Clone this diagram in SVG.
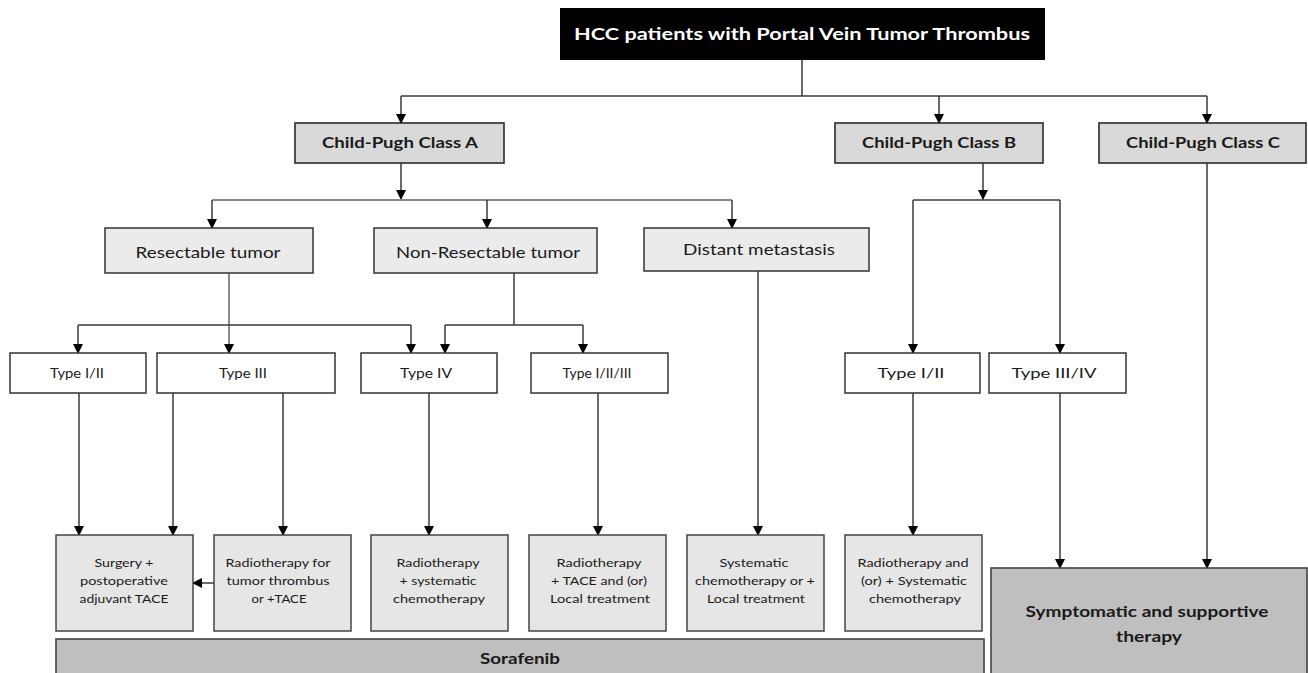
<svg xmlns="http://www.w3.org/2000/svg" width="1308" height="673" viewBox="0 0 1308 673">
<style>
  .t{font-family:Lato,"Open Sans","Liberation Sans",sans-serif;fill:#1a1a1a;text-anchor:middle}
  .b{font-weight:bold}
  .cls{fill:#d9d9d9;stroke:#2a2a2a;stroke-width:1.6}
  .mid{fill:#ebebeb;stroke:#333;stroke-width:1.5}
  .typ{fill:#ffffff;stroke:#333;stroke-width:1.5}
  .trt{fill:#e6e6e6;stroke:#444;stroke-width:1.5}
  .big{fill:#bfbfbf;stroke:#444;stroke-width:1.6}
  .c{fill:none;stroke:#3a3a3a;stroke-width:1.5}
  .g{fill:none;stroke:#8a8a8a;stroke-width:2}
  .a{marker-end:url(#arr)}
</style>
<defs>
  <marker id="arr" markerUnits="userSpaceOnUse" markerWidth="10" markerHeight="11" refX="9" refY="5" orient="auto">
    <path d="M0,0 L10,5 L0,10 Z" fill="#000"/>
  </marker>
</defs>
<rect width="1308" height="673" fill="#fff"/>

<g id="connectors">
  <path class="c" d="M802,60 V96 M401,96 H1207"/>
  <path class="c a" d="M401,96 V123"/>
  <path class="c a" d="M939,96 V123"/>
  <path class="c a" d="M1207,96 V123"/>
  <path class="c a" d="M401,163 V199"/>
  <path class="g" d="M212,200 H732"/>
  <path class="c a" d="M212,200 V228"/>
  <path class="c a" d="M487,200 V228"/>
  <path class="c a" d="M732,200 V228"/>
  <path class="c a" d="M983,163 V199"/>
  <path class="c" d="M913,200 H1060"/>
  <path class="c a" d="M913,200 V353"/>
  <path class="c a" d="M1060,200 V353"/>
  <path class="c a" d="M1207,163 V568"/>
  <path class="g a" d="M229,273 V353"/>
  <path class="c" d="M78,325 H411"/>
  <path class="c a" d="M78,325 V353"/>
  <path class="c a" d="M411,325 V353"/>
  <path class="c" d="M514,273 V325 M445,325 H583"/>
  <path class="c a" d="M445,325 V353"/>
  <path class="c a" d="M583,325 V353"/>
  <path class="c a" d="M758,271 V535"/>
  <path class="c a" d="M79,393 V535"/>
  <path class="c a" d="M173,393 V535"/>
  <path class="c a" d="M283,393 V535"/>
  <path class="c a" d="M429,393 V535"/>
  <path class="c a" d="M598,393 V535"/>
  <path class="c a" d="M913,393 V535"/>
  <path class="c a" d="M1060,393 V568"/>
  <path class="c a" d="M214,583 H193"/>
</g>

<g id="root">
  <rect x="560" y="8" width="485" height="52" fill="#000"/>
  <text class="t b" x="802" y="40" font-size="17.5" fill="#fff" style="fill:#fff" textLength="456" lengthAdjust="spacingAndGlyphs">HCC patients with Portal Vein Tumor Thrombus</text>
</g>

<g id="classA"><rect class="cls" x="295" y="123" width="209" height="40"/><text class="t b" x="400" y="148" font-size="15" textLength="156" lengthAdjust="spacingAndGlyphs">Child-Pugh Class A</text></g>
<g id="classB"><rect class="cls" x="835" y="123" width="208" height="40"/><text class="t b" x="939" y="148" font-size="15" textLength="154" lengthAdjust="spacingAndGlyphs">Child-Pugh Class B</text></g>
<g id="classC"><rect class="cls" x="1099" y="123" width="207" height="40"/><text class="t b" x="1203" y="148" font-size="15" textLength="154" lengthAdjust="spacingAndGlyphs">Child-Pugh Class C</text></g>

<g id="resectable"><rect class="mid" x="105" y="228" width="208" height="45"/><text class="t" x="208" y="258" font-size="15" textLength="145" lengthAdjust="spacingAndGlyphs">Resectable tumor</text></g>
<g id="nonresectable"><rect class="mid" x="374" y="228" width="223" height="45"/><text class="t" x="488" y="258" font-size="15" textLength="184" lengthAdjust="spacingAndGlyphs">Non-Resectable tumor</text></g>
<g id="distant"><rect class="mid" x="644" y="228" width="225" height="43"/><text class="t" x="759" y="255" font-size="15" textLength="152" lengthAdjust="spacingAndGlyphs">Distant metastasis</text></g>

<g id="typeA12"><rect class="typ" x="10" y="353" width="136" height="40"/><text class="t" x="77" y="378" font-size="14" textLength="54" lengthAdjust="spacingAndGlyphs">Type I/II</text></g>
<g id="typeA3"><rect class="typ" x="157" y="353" width="178" height="40"/><text class="t" x="243" y="378" font-size="14" textLength="48" lengthAdjust="spacingAndGlyphs">Type III</text></g>
<g id="typeA4"><rect class="typ" x="361" y="353" width="136" height="40"/><text class="t" x="426" y="378" font-size="14" textLength="52" lengthAdjust="spacingAndGlyphs">Type IV</text></g>
<g id="typeA123"><rect class="typ" x="531" y="353" width="137" height="40"/><text class="t" x="597" y="378" font-size="14" textLength="69" lengthAdjust="spacingAndGlyphs">Type I/II/III</text></g>
<g id="typeB12"><rect class="typ" x="845" y="353" width="135" height="40"/><text class="t" x="911" y="378" font-size="14" textLength="67" lengthAdjust="spacingAndGlyphs">Type I/II</text></g>
<g id="typeB34"><rect class="typ" x="989" y="353" width="137" height="40"/><text class="t" x="1054" y="378" font-size="14" textLength="85" lengthAdjust="spacingAndGlyphs">Type III/IV</text></g>

<g id="surgery"><rect class="trt" x="56" y="535" width="137" height="96"/>
  <text class="t" x="124" y="567" font-size="12" textLength="59" lengthAdjust="spacingAndGlyphs">Surgery +</text>
  <text class="t" x="124" y="585" font-size="12" textLength="88" lengthAdjust="spacingAndGlyphs">postoperative</text>
  <text class="t" x="124" y="603" font-size="12" textLength="89" lengthAdjust="spacingAndGlyphs">adjuvant TACE</text></g>
<g id="radioThrombus"><rect class="trt" x="214" y="535" width="137" height="96"/>
  <text class="t" x="278" y="567" font-size="12" textLength="105" lengthAdjust="spacingAndGlyphs">Radiotherapy for</text>
  <text class="t" x="278" y="585" font-size="12" textLength="103" lengthAdjust="spacingAndGlyphs">tumor thrombus</text>
  <text class="t" x="279" y="603" font-size="12" textLength="55" lengthAdjust="spacingAndGlyphs">or +TACE</text></g>
<g id="radioChemo"><rect class="trt" x="371" y="535" width="137" height="96"/>
  <text class="t" x="438" y="567" font-size="12" textLength="83" lengthAdjust="spacingAndGlyphs">Radiotherapy</text>
  <text class="t" x="438" y="585" font-size="12" textLength="77" lengthAdjust="spacingAndGlyphs">+ systematic</text>
  <text class="t" x="439" y="603" font-size="12" textLength="92" lengthAdjust="spacingAndGlyphs">chemotherapy</text></g>
<g id="radioTace"><rect class="trt" x="529" y="535" width="137" height="96"/>
  <text class="t" x="599" y="567" font-size="12" textLength="85" lengthAdjust="spacingAndGlyphs">Radiotherapy</text>
  <text class="t" x="599" y="585" font-size="12" textLength="96" lengthAdjust="spacingAndGlyphs">+ TACE and (or)</text>
  <text class="t" x="600" y="603" font-size="12" textLength="100" lengthAdjust="spacingAndGlyphs">Local treatment</text></g>
<g id="sysChemo"><rect class="trt" x="687" y="535" width="137" height="96"/>
  <text class="t" x="754" y="567" font-size="12" textLength="69" lengthAdjust="spacingAndGlyphs">Systematic</text>
  <text class="t" x="755" y="585" font-size="12" textLength="120" lengthAdjust="spacingAndGlyphs">chemotherapy or +</text>
  <text class="t" x="756" y="603" font-size="12" textLength="98" lengthAdjust="spacingAndGlyphs">Local treatment</text></g>
<g id="radioSys"><rect class="trt" x="845" y="535" width="137" height="96"/>
  <text class="t" x="913" y="567" font-size="12" textLength="111" lengthAdjust="spacingAndGlyphs">Radiotherapy and</text>
  <text class="t" x="914" y="585" font-size="12" textLength="106" lengthAdjust="spacingAndGlyphs">(or) + Systematic</text>
  <text class="t" x="915" y="603" font-size="12" textLength="92" lengthAdjust="spacingAndGlyphs">chemotherapy</text></g>

<g id="sorafenib"><rect class="big" x="56" y="639" width="928" height="40"/>
  <text class="t b" x="520" y="664" font-size="15" textLength="80" lengthAdjust="spacingAndGlyphs">Sorafenib</text></g>
<g id="symptomatic"><rect class="big" x="991" y="568" width="316" height="112"/>
  <text class="t b" x="1147" y="617" font-size="16" textLength="243" lengthAdjust="spacingAndGlyphs">Symptomatic and supportive</text>
  <text class="t b" x="1149" y="642" font-size="16" textLength="66" lengthAdjust="spacingAndGlyphs">therapy</text></g>
</svg>
